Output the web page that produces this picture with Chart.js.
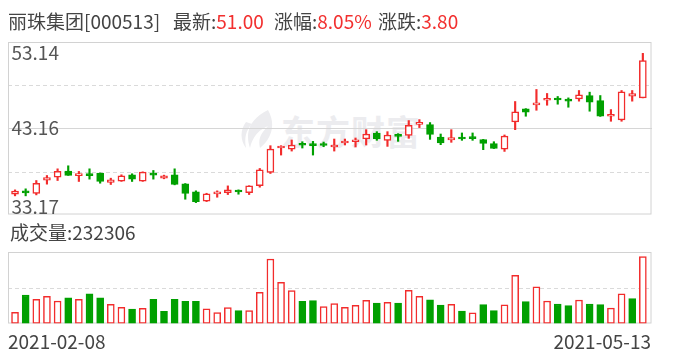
<!DOCTYPE html>
<html>
<head>
<meta charset="utf-8">
<script src="https://cdn.jsdelivr.net/npm/chart.js@4.4.0/dist/chart.umd.min.js"></script>
<style>
    body { margin: 0; width: 688px; height: 360px; overflow: hidden; position: relative; background: #fff;
           font-family: "Noto Sans CJK SC", "Noto Sans", sans-serif; }
    canvas { position: absolute; left: 0; }
    .txt { position: absolute; font-size: 19px; line-height: 19px; color: #444; white-space: nowrap; }
    .up { color: #f2302f; }
    #watermark { position: absolute; left: 281px; top: 106px; font-size: 34px; font-weight: bold; color: #ececef; letter-spacing: 1px; }
    #logo { position: absolute; left: 238px; top: 108px; }
</style>
</head>
<body>
<svg id="logo" width="40" height="42" viewBox="0 0 40 42">
    <path d="M30 2 C14 10 6 22 12 40 C14 30 20 22 30 18 C22 26 20 32 22 40 C34 30 38 16 30 2 Z" fill="#ececef"/>
    <path d="M8 14 C2 22 2 32 8 40 C6 30 8 22 14 16 Z" fill="#ececef"/>
</svg>
<div id="watermark">东方财富</div>
<canvas id="priceChart" width="688" height="220" style="top:0"></canvas>
<canvas id="volumeChart" width="688" height="140" style="top:220px"></canvas>

<div class="txt" id="stock-name" style="left:8px;top:11px"></div>
<div class="txt" style="left:173px;top:11px">最新:<span class="up" id="last-price"></span></div>
<div class="txt" style="left:274px;top:11px">涨幅:<span class="up" id="change-pct"></span></div>
<div class="txt" style="left:378px;top:11px">涨跌:<span class="up" id="change-abs"></span></div>
<div class="txt" id="volume-title" style="left:10px;top:222px"></div>
<div class="txt" id="first-date" style="left:8px;top:331px"></div>
<div class="txt" id="last-date" style="right:37px;top:331px"></div>

<script>
const stockName = '丽珠集团';
const stockCode = '000513';

// trading days 2021-02-08 .. 2021-05-13
const dates = [
    '2021-02-08', '2021-02-09', '2021-02-10', '2021-02-18', '2021-02-19',
    '2021-02-22', '2021-02-23', '2021-02-24', '2021-02-25', '2021-02-26',
    '2021-03-01', '2021-03-02', '2021-03-03', '2021-03-04', '2021-03-05',
    '2021-03-08', '2021-03-09', '2021-03-10', '2021-03-11', '2021-03-12',
    '2021-03-15', '2021-03-16', '2021-03-17', '2021-03-18', '2021-03-19',
    '2021-03-22', '2021-03-23', '2021-03-24', '2021-03-25', '2021-03-26',
    '2021-03-29', '2021-03-30', '2021-03-31', '2021-04-01', '2021-04-02',
    '2021-04-06', '2021-04-07', '2021-04-08', '2021-04-09', '2021-04-12',
    '2021-04-13', '2021-04-14', '2021-04-15', '2021-04-16', '2021-04-19',
    '2021-04-20', '2021-04-21', '2021-04-22', '2021-04-23', '2021-04-26',
    '2021-04-27', '2021-04-28', '2021-04-29', '2021-04-30', '2021-05-06',
    '2021-05-07', '2021-05-10', '2021-05-11', '2021-05-12', '2021-05-13'
];

const openPrices = [
    35.57, 35.76, 35.65, 37.19, 37.54, 38.24, 37.72, 37.75, 38.00, 36.92,
    37.08, 37.81, 37.08, 37.80, 37.42, 37.81, 36.77, 35.84, 34.76, 35.60,
    35.76, 35.86, 35.76, 36.57, 38.08, 40.90, 40.78, 41.40, 41.20, 41.22,
    41.02, 41.48, 41.63, 41.94, 42.64, 41.79, 42.40, 42.37, 43.64, 43.60,
    42.17, 41.83, 41.99, 42.15, 41.87, 41.40, 40.78, 43.91, 45.42, 45.88,
    46.42, 46.47, 46.50, 46.58, 46.96, 46.38, 44.57, 44.14, 46.89, 46.69
];
const highPrices = [
    36.07, 36.19, 37.15, 37.73, 38.50, 38.85, 38.20, 38.50, 38.02, 37.42,
    37.81, 37.93, 38.15, 38.31, 37.77, 38.50, 36.80, 35.96, 35.68, 35.96,
    36.53, 36.07, 36.55, 38.54, 41.17, 41.17, 41.83, 41.63, 41.67, 41.59,
    41.94, 41.94, 42.06, 43.02, 42.79, 42.79, 42.56, 44.07, 44.18, 43.84,
    42.52, 43.02, 42.64, 42.64, 41.90, 41.63, 42.41, 46.27, 45.45, 47.66,
    47.20, 46.85, 46.69, 47.54, 47.35, 46.96, 45.34, 47.54, 47.54, 51.83
];
const lowPrices = [
    35.38, 35.38, 35.49, 36.73, 37.15, 37.74, 37.04, 37.31, 36.84, 36.69,
    37.05, 37.04, 37.05, 37.31, 37.35, 36.65, 34.99, 34.60, 34.72, 35.22,
    35.53, 35.57, 35.53, 36.38, 37.96, 40.09, 40.55, 40.90, 40.09, 41.05,
    40.55, 41.25, 41.02, 41.25, 41.79, 41.09, 41.67, 42.02, 43.26, 41.90,
    41.29, 41.56, 41.79, 41.79, 40.71, 40.84, 40.51, 43.02, 44.57, 45.26,
    45.84, 45.96, 45.61, 46.31, 45.15, 44.55, 43.99, 43.99, 46.31, 46.69
];
const closePrices = [
    35.92, 35.73, 36.84, 37.50, 38.20, 37.74, 37.76, 37.72, 37.04, 37.23,
    37.69, 37.31, 38.12, 37.77, 37.69, 36.69, 35.65, 34.72, 35.61, 35.64,
    36.07, 35.83, 36.53, 38.39, 40.78, 40.95, 41.25, 41.22, 41.17, 41.19,
    41.25, 41.71, 41.79, 42.52, 41.94, 42.40, 42.25, 43.53, 43.84, 42.48,
    41.48, 42.10, 41.94, 41.98, 41.44, 40.86, 42.29, 45.07, 45.03, 46.11,
    46.62, 46.44, 46.31, 47.04, 46.19, 44.57, 44.61, 47.39, 47.20, 51.00
];
const volumes = [
    38500, 99000, 84000, 94600, 78000, 88800, 84000, 102800, 88800, 66600,
    56000, 50000, 52600, 84000, 42000, 84000, 77000, 77000, 51000, 38000,
    55000, 45000, 45000, 108000, 224000, 143000, 114000, 77000, 80000, 59000,
    69000, 56000, 63000, 80600, 71000, 73600, 71000, 115600, 94600, 81800,
    64000, 66600, 43000, 37000, 66000, 45000, 65000, 167000, 76000, 127000,
    78000, 67600, 62000, 81600, 67600, 65500, 53600, 102700, 86500, 232306
];

// axis levels shown on the picture
const priceMin = 33.17;
const priceMax = 53.14;
const priceLabels = [53.14, 43.16, 33.17];
const priceDashed = [48.15, 38.16];
const volumeMax = 250000;
const volumeDashed = [125000];

const RED = '#f22c2c';
const GREEN = '#00a000';

// --- Header texts ---
const last = closePrices[closePrices.length - 1];
const prev = closePrices[closePrices.length - 2];
document.getElementById('stock-name').textContent = `${stockName}[${stockCode}]`;
document.getElementById('last-price').textContent = last.toFixed(2);
document.getElementById('change-pct').textContent = ((last - prev) / prev * 100).toFixed(2) + '%';
document.getElementById('change-abs').textContent = (last - prev).toFixed(2);
document.getElementById('volume-title').textContent = '成交量:' + volumes[volumes.length - 1];
document.getElementById('first-date').textContent = dates[0];
document.getElementById('last-date').textContent = dates[dates.length - 1];

const candleUp = dates.map((d, i) => closePrices[i] >= openPrices[i]);
const volumeUp = dates.map((d, i) => i === 0 ? candleUp[0] : closePrices[i] >= closePrices[i - 1]);

// frame, grid lines and inner y labels
const framePlugin = {
    id: 'frame',
    beforeDatasetsDraw(chart, args, opts) {
        const { ctx, chartArea: a } = chart;
        const y = chart.scales.y;
        const line = (v, dash, color) => {
            const py = Math.round(y.getPixelForValue(v)) + 0.5;
            ctx.setLineDash(dash);
            ctx.strokeStyle = color;
            ctx.beginPath();
            ctx.moveTo(a.left, py);
            ctx.lineTo(a.right, py);
            ctx.stroke();
        };
        ctx.save();
        ctx.lineWidth = 1;
        (opts.dashed || []).forEach(v => line(v, [4, 3], '#dadada'));
        (opts.labels || []).slice(1, -1).forEach(v => line(v, [], '#d6d6d6'));
        ctx.setLineDash([]);
        ctx.strokeStyle = '#d2d2d2';
        const l = Math.round(a.left) + 0.5, t = Math.round(a.top) + 0.5;
        ctx.strokeRect(l, t, Math.round(a.right) - 1 - l, Math.round(a.bottom) - 1 - t);

        ctx.font = '19px "Noto Sans CJK SC"';
        ctx.fillStyle = '#555';
        const labels = opts.labels || [];
        labels.forEach((v, i) => {
            let by = y.getPixelForValue(v) + 7;
            if (i === 0) by = a.top + 17.5;
            if (i === labels.length - 1) by = a.bottom - 1.5;
            ctx.fillText(v.toFixed(2), a.left + 3.5, by);
        });
        ctx.restore();
    }
};

const baseOptions = (yMin, yMax, padding, frame) => ({
    responsive: false,
    animation: false,
    layout: { padding },
    scales: {
        x: { type: 'linear', display: false, offset: false, min: -0.66, max: 59.86 },
        y: { display: false, min: yMin, max: yMax }
    },
    plugins: { legend: { display: false }, tooltip: { enabled: false }, frame }
});

// --- Price (candles) ---
new Chart(document.getElementById('priceChart').getContext('2d'), {
    type: 'bar',
    data: {
        datasets: [{
            // bodies
            data: dates.map((d, i) => ({ x: i, y: [openPrices[i], closePrices[i]] })),
            grouped: false,
            barThickness: 7,
            minBarLength: 2,
            borderWidth: 1.5,
            borderSkipped: false,
            backgroundColor: dates.map((d, i) => candleUp[i] ? '#fff' : GREEN),
            borderColor: dates.map((d, i) => candleUp[i] ? RED : GREEN)
        }, {
            // wicks
            data: dates.map((d, i) => ({ x: i, y: [lowPrices[i], highPrices[i]] })),
            grouped: false,
            barThickness: 1.5,
            borderWidth: 0,
            backgroundColor: dates.map((d, i) => candleUp[i] ? RED : GREEN)
        }]
    },
    options: baseOptions(priceMin, priceMax, { left: 8, right: 36, top: 42, bottom: 5 },
        { labels: priceLabels, dashed: priceDashed }),
    plugins: [framePlugin]
});

// --- Volume ---
new Chart(document.getElementById('volumeChart').getContext('2d'), {
    type: 'bar',
    data: {
        datasets: [{
            data: dates.map((d, i) => ({ x: i, y: volumes[i] })),
            barThickness: 7,
            borderWidth: 1.5,
            borderSkipped: false,
            backgroundColor: dates.map((d, i) => volumeUp[i] ? '#fff' : GREEN),
            borderColor: dates.map((d, i) => volumeUp[i] ? RED : GREEN)
        }]
    },
    options: baseOptions(0, volumeMax, { left: 8, right: 36, top: 31.5, bottom: 36.5 },
        { dashed: volumeDashed }),
    plugins: [framePlugin]
});
</script>
</body>
</html>
